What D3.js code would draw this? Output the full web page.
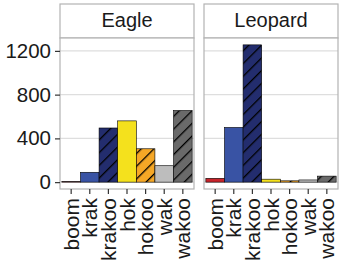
<!DOCTYPE html>
<html>
<head>
<meta charset="utf-8">
<script src="https://cdn.jsdelivr.net/npm/d3@7"></script>
<style>
  body { margin: 0; background: #fff; }
  text { font-family: "Liberation Sans", Arial, sans-serif; fill: #1a1a1a; }
</style>
</head>
<body>
<div id="chart"></div>
<script>
// data
const categories = ["boom", "krak", "krakoo", "hok", "hokoo", "wak", "wakoo"];
const panels = ["Eagle", "Leopard"];
const eagleValues = [4, 90, 495, 560, 305, 150, 655];
const leopardValues = [35, 500, 1255, 27, 12, 20, 55];
const yTicks = [0, 400, 800, 1200];
const fills = ["#c8242b", "#3953a4", "#232d6e", "#f4e11d", "#f5a726", "#bdbdbd", "#6a6a6a"];
const striped = [false, false, true, false, true, false, true];

const seriesByPanel = { Eagle: eagleValues, Leopard: leopardValues };

const width = 339, height = 265;
const margin = { left: 60, right: 1, top: 4, bottom: 76 };
const stripH = 34, gap = 10;
const panelW = (width - margin.left - margin.right - gap) / 2;
const panelTop = margin.top + stripH;
const panelBottom = height - margin.bottom;

let svg = d3.select("#chart").append("svg")
  .attr("width", width)
  .attr("height", height);

// stripe pattern for hatched bars
let defs = svg.append("defs");
striped.forEach((s, i) => {
  if (!s) return;
  let p = defs.append("pattern")
    .attr("id", "hatch" + i)
    .attr("patternUnits", "userSpaceOnUse")
    .attr("width", 9).attr("height", 9)
    .attr("patternTransform", "rotate(45)");
  p.append("rect").attr("width", 9).attr("height", 9).attr("fill", fills[i]);
  p.append("line").attr("x1", 0).attr("y1", 0).attr("x2", 0).attr("y2", 9)
    .attr("stroke", "#000").attr("stroke-width", 2.6);
});

// scales
const yMax = d3.max([...eagleValues, ...leopardValues]);
const yPad = yMax * 0.05;
const yScale = d3.scaleLinear()
  .domain([-yPad, yMax + yPad])
  .range([panelBottom, panelTop]);

const xScale = d3.scaleBand()
  .domain(categories)
  .range([0, panelW])
  .paddingInner(0)
  .paddingOuter(0.1);

panels.forEach((name, pi) => {
  const x0 = margin.left + pi * (panelW + gap);
  let g = svg.append("g").attr("transform", `translate(${x0},0)`);

  // strip
  g.append("rect")
    .attr("x", 0).attr("y", margin.top)
    .attr("width", panelW).attr("height", stripH)
    .attr("fill", "#fff").attr("stroke", "#b3b3b3").attr("stroke-width", 1.2);
  g.append("text")
    .attr("x", panelW / 2).attr("y", margin.top + stripH / 2 + 1)
    .attr("text-anchor", "middle").attr("dominant-baseline", "middle")
    .attr("font-size", 20)
    .text(name);

  // panel background + grid
  g.append("rect")
    .attr("x", 0).attr("y", panelTop)
    .attr("width", panelW).attr("height", panelBottom - panelTop)
    .attr("fill", "#fff");
  g.selectAll(".grid").data(yTicks).join("line")
    .attr("class", "grid")
    .attr("x1", 0).attr("x2", panelW)
    .attr("y1", d => yScale(d)).attr("y2", d => yScale(d))
    .attr("stroke", "#dedede").attr("stroke-width", 1.4);

  // bars
  const vals = seriesByPanel[name];
  g.selectAll(".bar").data(categories).join("rect")
    .attr("class", "bar")
    .attr("x", d => xScale(d))
    .attr("width", xScale.bandwidth())
    .attr("y", (d, i) => yScale(vals[i]))
    .attr("height", (d, i) => yScale(0) - yScale(vals[i]))
    .attr("fill", (d, i) => striped[i] ? `url(#hatch${i})` : fills[i])
    .attr("stroke", "#000").attr("stroke-width", 0.6);

  // panel border
  g.append("rect")
    .attr("x", 0).attr("y", panelTop)
    .attr("width", panelW).attr("height", panelBottom - panelTop)
    .attr("fill", "none").attr("stroke", "#b3b3b3").attr("stroke-width", 1.2);

  // x axis
  let xAxis = g.append("g")
    .attr("transform", `translate(0,${panelBottom})`)
    .call(d3.axisBottom(xScale).tickSize(5).tickPadding(4));
  xAxis.select(".domain").remove();
  xAxis.selectAll("line").attr("stroke", "#333").attr("stroke-width", 1.2);
  xAxis.selectAll("text")
    .attr("font-size", 21)
    .attr("fill", "#1a1a1a")
    .attr("transform", "rotate(-90)")
    .attr("text-anchor", "end")
    .attr("x", -9).attr("y", 0)
    .attr("dy", "0.36em");

  // y axis on the first panel only
  if (pi === 0) {
    let yAxis = g.append("g")
      .call(d3.axisLeft(yScale).tickValues(yTicks).tickFormat(d3.format("d"))
        .tickSize(5).tickPadding(4));
    yAxis.select(".domain").remove();
    yAxis.selectAll("line").attr("stroke", "#333").attr("stroke-width", 1.2);
    yAxis.selectAll("text").attr("font-size", 20.5).attr("fill", "#1a1a1a");
  }
});
</script>
</body>
</html>
